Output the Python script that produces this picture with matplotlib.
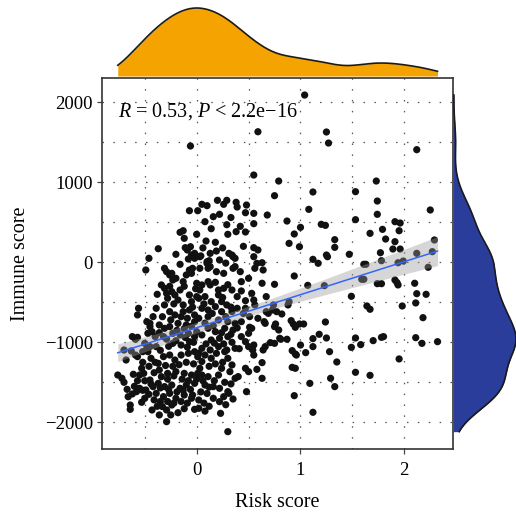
import numpy as np
import matplotlib.pyplot as plt

plt.rcParams['font.family'] = ['Liberation Serif', 'DejaVu Serif']
plt.rcParams['mathtext.fontset'] = 'custom'
plt.rcParams['mathtext.rm'] = 'Liberation Serif'
plt.rcParams['mathtext.it'] = 'Liberation Serif:italic'

# risk score (x) and immune score (y)
risk = [0.59, -0.06, 0.55, 0.79, 0.75, 0.20, 0.29, 0.26, 0.05, 0.10, 0.38, 0.39, 0.48, -0.07, 0.01,
        0.55, 0.68, 0.16, 0.08, 0.29, 0.55, -0.16, -0.13, 0.38, 0.47, 0.30, 0.09, -0.37, -0.11, -0.09,
        -0.06, 0.55, 0.59, 0.19, 0.31, -0.02, 1.04, 1.25, 1.27, 2.12, 1.73, 1.12, 1.53, 1.74, 1.08,
        2.25, 1.74, 1.53, 0.87, 1.00, 1.20, 1.24, 1.91, 1.96, 1.95, 0.94, 1.79, 1.67, 1.33, 1.33,
        1.82, 0.89, 0.99, 1.91, 1.89, 1.96, 2.29, 2.12, 2.27, 1.47, 1.77, 1.25, 1.12, 1.17, 1.26,
        1.78, 1.61, 1.63, 1.94, 1.99, 2.23, 0.94, 0.75, 1.07, 1.23, 1.59, 1.61, 1.74, 1.78, 1.91,
        1.93, 1.94, 2.10, 2.12, 2.21, 1.49, 0.89, 0.73, 0.82, 1.64, 1.67, 1.98, 2.11, 2.18, 0.91,
        0.93, 0.95, 0.75, 0.76, 0.99, 1.03, 1.24, 1.18, 1.12, 1.25, 0.81, 0.87, 0.71, 1.00, 1.12,
        0.92, 0.95, 0.96, 1.05, 1.28, 1.35, 1.53, 1.49, 1.58, 1.70, 1.78, 1.80, 1.95, 2.11, 2.17,
        2.32, 0.92, 0.95, 1.53, 1.67, 1.29, 1.33, 1.09, 0.94, 1.12,
        0.30, 0.23, -0.29, -0.64, -0.64, -0.36, -0.43, -0.33, -0.29, -0.25, -0.24, -0.02, 0.02, -0.76,
        -0.72, -0.67, -0.62, -0.58, 0.48, 0.35, 0.31, 0.40, 0.37, 0.63, 0.58, 0.63, 0.47, 0.50, 0.54,
        0.55, 0.64, 0.51, 0.65, 0.63, 0.63, 0.55, 0.43, 0.43, 0.53, 0.55, -0.46, -0.49, -0.56, -0.57,
        -0.62, -0.59, -0.57, -0.70, -0.63, -0.68, -0.59, -0.57, -0.53, -0.55, -0.51, -0.48, -0.45,
        -0.43, -0.50, -0.48, -0.45,
        -0.31, -0.29, -0.26, -0.23, -0.20, -0.34, -0.31, -0.13, -0.10, -0.07, -0.04, -0.16, -0.21,
        -0.18, -0.13, -0.07, -0.05, 0.00, -0.39, -0.42, -0.45, -0.31, -0.26, -0.21, -0.13, -0.07,
        -0.02, -0.36, -0.31, -0.26, -0.18, -0.10, -0.02, -0.47, -0.40, -0.32, -0.23, -0.16, -0.08,
        0.00, -0.23, -0.15, -0.07, -0.39, -0.52,
        0.03, 0.11, 0.19, 0.26, 0.35, 0.42, 0.56, 0.00, 0.05, 0.11, 0.21, 0.26, 0.34, 0.39, 0.02,
        0.08, 0.14, 0.21, 0.24, 0.29, 0.56, 0.47, 0.05, 0.11, 0.18, 0.24, 0.34, 0.39, 0.02, 0.11,
        0.21, 0.30, 0.37, 0.43, 0.51, 0.59, 0.66, 0.88, 0.67, 0.11, 0.18, 0.27, 0.35, 0.53, 0.50,
        -0.02, 0.05, 0.14, 0.22, 0.30, 0.43, 0.47, 0.55, 0.66, 0.75, 0.80, 0.05, 0.13, 0.21, 0.29,
        0.37,
        -0.47, -0.45, -0.42, -0.55, -0.49, -0.50, -0.37, -0.32, -0.26, -0.21, -0.15, -0.08, -0.02,
        -0.36, -0.28, -0.20, -0.12, -0.05, 0.01, -0.37, -0.31, -0.24, -0.16, -0.10, -0.02, -0.39,
        -0.32, -0.26, -0.20, -0.12, -0.04,
        0.02, 0.08, 0.14, 0.19, 0.27, 0.03, 0.05, 0.11, 0.21, 0.24, 0.34, 0.32, 0.50, 0.08, 0.16,
        0.22, 0.30, 0.02, 0.16, 0.22,
        0.04, 0.10, 0.13, 0.22, 0.35, 0.37, -0.05, -0.02, -0.08, -0.16, -0.05, 0.10, 0.03, 0.13,
        0.34, 0.37, -0.24, -0.29, -0.24, 0.03, 0.13, 0.74, 0.77, 0.79, 0.67, 0.69, 0.58, 0.64,
        # overlapping points inside the dense cluster (estimated)
        -0.52, -0.46, -0.41, -0.34, -0.28, -0.22, -0.14, -0.08, 0.00, 0.06,
        -0.50, -0.44, -0.35, -0.27, -0.19, -0.13, -0.06, 0.04, 0.10, 0.26,
        -0.46, -0.41, -0.35, -0.28, -0.22, -0.15, -0.09, -0.05, 0.07, 0.12,
        -0.53, -0.57, -0.61, -0.44, -0.40, -0.30, -0.23, -0.17, -0.10, -0.03,
        0.05, 0.12, 0.18, 0.25, 0.30, 0.17, 0.27, 0.33, 0.12, 0.28,
        -0.12, -0.18, 0.08, -0.38, -0.52, -0.60, -0.66, -0.70, -0.27, -0.35,
        -0.28, -0.22, -0.15, -0.09, -0.04, 0.07, 0.15, 0.28, 0.33, 0.25,
        -0.33, -0.25, -0.19, -0.12, -0.05, 0.08, 0.16, 0.24, 0.33, 0.39,
        -0.36, -0.29, -0.20, -0.11, -0.03, 0.09, 0.17, 0.26, 0.34, 0.41,
        -0.38, -0.26, -0.12, -0.01, 0.18, 0.30, 0.45, 0.47, -0.09, 0.01,
        -0.12, 0.00, 0.14, 0.22, 0.33, 0.42, 0.18, 0.25, 0.06, -0.20,
        0.45, 0.47, 0.12, 0.28, 0.50]

immune = [1632, 1454, 1091, 1016, 833, 775, 775, 725, 725, 708, 750, 691, 716, 645, 645,
          612, 591, 570, 508, 470, 483, 375, 395, 383, 379, 350, 266, 170, 183, 154,
          195, 183, 154, 141, 112, 112, 2091, 1629, 1491, 1408, 1016, 879, 883, 766, 662,
          654, 600, 533, 516, 437, 475, 462, 508, 491, 395, 354, 412, 362, 283, 187,
          291, 237, 195, 258, 166, 166, 279, 112, 133, 100, 120, 91, 37, -12, 70,
          20, -25, -25, -5, 16, -62, -171, -275, -288, -292, -212, -212, -267, -267, -221,
          -254, -283, -262, -392, -400, -425, -492, -596, -646, -546, -587, -546, -508, -692, -729,
          -771, -812, -804, -771, -771, -771, -746, -900, -954, -946, -962, -962, -1004, -1034, -1054,
          -1104, -1146, -1159, -1129, -1117, -1246, -946, -1063, -1029, -979, -938, -929, -1208, -942, -1013,
          -992, -1313, -1325, -1375, -1413, -1450, -1554, -1513, -1667, -1875,
          -2117, -1888, -1992, -1838, -1784, -1908, -1846, -1804, -1846, -1908, -1784, -1838, -1825, -1409,
          -1450, -1588, -1646, -1617, -1617, -1709, -1638, -1429, -1450, -1450, -1338, -1254, -1325, -1054, -1096,
          -1159, -1096, -812, -742, -262, -5, 70, -242, -358, -388, -471, 50, -96, -575, -658,
          -929, -962, -938, -1096, -1108, -1221, -1159, -1179, -1325, -1409, -1388, -742, -804,
          -867, -1013, -1075, -1054,
          -75, -117, -158, -221, -200, -283, -325, -242, -158, -96, -75, -346, -408,
          -471, -533, -408, -492, -429, -575, -679, -763, -533, -617, -658, -617, -596,
          -658, -783, -825, -804, -763, -783, -742, -888, -929, -929, -888, -908, -888,
          -867, -1013, -1034, -992, -1054, -1117,
          -75, -75, -117, -138, -75, -117, -75, -262, -283, -242, -346, -325, -346, -429, -450,
          -429, -492, -408, -492, -533, -533, -575, -575, -596, -554, -617, -617, -575, -700, -679,
          -721, -742, -763, -742, -679, -700, -763, -533, -617, -825, -867, -825, -846, -825, -888,
          -929, -908, -971, -950, -929, -929, -992, -1034, -1054, -1013, -950, -1075, -1096, -1054, -1096,
          -1075,
          -1117, -1471, -1554, -1575, -1596, -1700, -1263, -1179, -1159, -1221, -1159, -1138, -1117,
          -1346, -1388, -1367, -1388, -1409, -1388, -1513, -1554, -1534, -1575, -1534, -1513, -1638,
          -1679, -1638, -1700, -1659, -1659,
          -1138, -1159, -1200, -1138, -1117, -1325, -1409, -1429, -1409, -1325, -1283, -1367, -1367, -1534, -1554,
          -1575, -1617, -1721, -1700, -1742,
          80, 8, -54, 29, 70, -54, 91, 50, 41, -25, -138, -13, 70, 112,
          91, 50, -138, -388, -367, -346, -283, -533, -617, -846, -429, -638, -13, -96,
          # overlapping points inside the dense cluster (estimated)
          -1250, -1300, -1380, -1430, -1460, -1420, -1460, -1480, -1460, -1480,
          -1480, -1520, -1570, -1590, -1620, -1600, -1590, -1620, -1640, -1680,
          -1650, -1720, -1740, -1740, -1760, -1740, -1760, -1700, -1760, -1800,
          -1750, -1480, -1400, -1200, -1250, -1290, -1300, -1280, -1250, -1270,
          -1240, -1300, -1270, -1250, -1200, -1480, -1500, -1520, -1560, -1780,
          -1830, -1880, -1860, -1800, -1600, -1550, -1680, -1500, -1050, -1100,
          -450, -520, -680, -700, -560, -520, -640, -680, -560, -440,
          -680, -720, -850, -830, -800, -760, -790, -880, -900, -820,
          -880, -960, -980, -940, -1000, -1020, -1010, -1020, -1000, -1080,
          -400, -300, -300, -330, -250, -280, -640, -480, -1060, -1180,
          300, 350, 420, 600, 560, 450, 250, 180, 180, 100,
          200, 620, 20, -10, -200]

x_ticks = [0, 1, 2]
y_ticks = [-2000, -1000, 0, 1000, 2000]
grid_x = [-0.5, 0, 0.5, 1, 1.5, 2]
grid_y = [-2000, -1500, -1000, -500, 0, 500, 1000, 1500, 2000]
cor_label = r"$\it{R}$ = 0.53, $\it{P}$ < 2.2e$-$16"

x = np.array(risk, dtype=float)
y = np.array(immune, dtype=float)


def kde(v, grid):
    # gaussian kde with R's bw.nrd0 bandwidth
    sd = v.std(ddof=1)
    iqr = np.subtract(*np.percentile(v, [75, 25]))
    bw = 0.9 * min(sd, iqr / 1.34) * len(v) ** -0.2
    z = (grid[:, None] - v[None, :]) / bw
    return np.exp(-0.5 * z ** 2).sum(axis=1) / (len(v) * bw * np.sqrt(2 * np.pi))


W, H = 516, 515
fig = plt.figure(figsize=(W / 100, H / 100), dpi=100)
ax = fig.add_axes([102 / W, 1 - 448.7 / H, 351.3 / W, 370.7 / H])
ax_top = fig.add_axes([102 / W, 1 - 76 / H, 351.3 / W, 76 / H])
ax_right = fig.add_axes([453.3 / W, 1 - 448.7 / H, (W - 453.3) / W, 370.7 / H])

xlim = (-0.912, 2.472)
ylim = (-2330, 2304)

# main scatter
ax.scatter(x, y, s=27, color='#111111', edgecolors='none', zorder=3)

# linear fit with 95% band
b, a = np.polyfit(x, y, 1)
xs = np.linspace(x.min(), x.max(), 100)
fit = a + b * xs
resid = y - (a + b * x)
n = len(x)
s = np.sqrt((resid ** 2).sum() / (n - 2))
se = s * np.sqrt(1 / n + (xs - x.mean()) ** 2 / ((x - x.mean()) ** 2).sum())
ax.fill_between(xs, fit - 1.965 * se, fit + 1.965 * se, color='#999999', alpha=0.4,
                linewidth=0, zorder=4)
ax.plot(xs, fit, color='#3366FF', lw=1.1, zorder=5)

ax.set_xlim(xlim)
ax.set_ylim(ylim)
ax.set_xticks(x_ticks)
ax.set_yticks(y_ticks)
ax.set_xticks(grid_x, minor=True)
ax.set_yticks(grid_y, minor=True)
ax.tick_params(which='minor', length=0)
ax.tick_params(which='major', direction='out', length=3.5, width=0.9, color='#444444',
               labelsize=13.5, pad=3)
ax.tick_params(axis='x', which='major', pad=6)
ax.grid(which='both', color='#555555', linestyle=(0, (1.2, 7.5)), lw=0.9, zorder=0)
for sp in ax.spines.values():
    sp.set_color('#333333')
    sp.set_linewidth(1.2)
ax.set_xlabel('Risk score', fontsize=14.5, labelpad=10)
ax.set_ylabel('Immune score', fontsize=14.5, labelpad=11)
ax.text(-0.76, 1880, cor_label, fontsize=14.5, va='center', ha='left', zorder=6)

# top marginal density
gx = np.linspace(x.min(), x.max(), 300)
dx = kde(x, gx)
ax_top.fill_between(gx, 0, dx, color='#F5A300', linewidth=0)
ax_top.plot(gx, dx, color='#1a1a1a', lw=1.2)
ax_top.set_xlim(xlim)
ax_top.set_ylim(0, dx.max() * 76 / 68)
ax_top.axis('off')

# right marginal density
gy = np.linspace(y.min(), y.max(), 300)
dy = kde(y, gy)
ax_right.fill_betweenx(gy, 0, dy, color='#2B3D9B', linewidth=0)
ax_right.plot(dy, gy, color='#1a1a1a', lw=1.2)
ax_right.set_ylim(ylim)
ax_right.set_xlim(0, dy.max() * 1.0)
ax_right.axis('off')

fig.savefig('out.png', dpi=100)
